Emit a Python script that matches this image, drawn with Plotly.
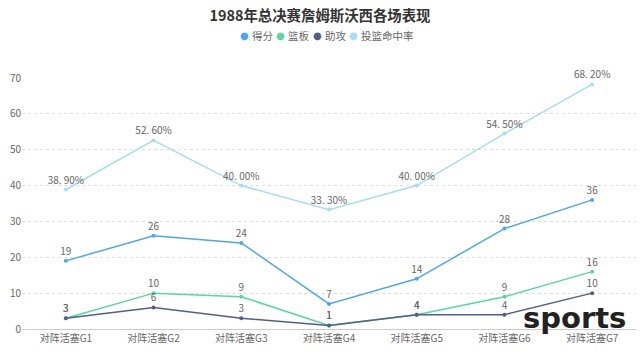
import plotly.graph_objects as go

categories = ["对阵活塞G1", "对阵活塞G2", "对阵活塞G3", "对阵活塞G4", "对阵活塞G5", "对阵活塞G6", "对阵活塞G7"]
points = [19, 26, 24, 7, 14, 28, 36]
rebounds = [3, 10, 9, 1, 4, 9, 16]
assists = [3, 6, 3, 1, 4, 4, 10]
fg_pct = [38.9, 52.6, 40.0, 33.3, 40.0, 54.5, 68.2]
y_ticks = [0, 10, 20, 30, 40, 50, 60, 70]

FONT = "Noto Sans CJK SC"

series = [
    ("得分", points, "#4ea6ec", [str(v) for v in points]),
    ("篮板", rebounds, "#56d8a3", [str(v) for v in rebounds]),
    ("助攻", assists, "#4e5f8c", [str(v) for v in assists]),
    ("投篮命中率", fg_pct, "#a6dcf5", [f"{v:.2f}%".replace(".", ". ") for v in fg_pct]),
]

# plot area in pixels (for placing the legend annotations)
L, R, T, B = 22, 636, 78, 329


def px_to_paper(px, py):
    return (px - L) / (R - L), (B - py) / (B - T)


fig = go.Figure()
for name, vals, color, labels in series:
    fig.add_trace(go.Scatter(
        x=categories, y=vals, name=name, mode="lines+markers+text",
        line=dict(color=color, width=1.5),
        marker=dict(color=color, size=4),
        text=labels, textposition="top center",
        textfont=dict(family=FONT, size=10, color="#666"),
        cliponaxis=False, showlegend=False,
    ))

# legend drawn as text: dot + name
legend_dot_x = [244, 280, 317, 353]
for (name, vals, color, labels), dx in zip(series, legend_dot_x):
    x0, y0 = px_to_paper(dx, 36)
    fig.add_annotation(text="●", x=x0, y=y0, xref="paper", yref="paper",
                       xanchor="center", yanchor="middle", showarrow=False,
                       font=dict(family="DejaVu Sans", size=10, color=color))
    x1, _ = px_to_paper(dx + 6, 36)
    fig.add_annotation(text=name, x=x1, y=y0, xref="paper", yref="paper",
                       xanchor="left", yanchor="middle", showarrow=False,
                       font=dict(family=FONT, size=10.5, color="#666"))

fig.update_layout(
    width=640, height=352,
    margin=dict(l=L, r=640 - R, t=T, b=352 - B, autoexpand=False),
    paper_bgcolor="white", plot_bgcolor="white",
    font=dict(family=FONT, color="#666", size=10),
    title=dict(text="<b>1988年总决赛詹姆斯沃西各场表现</b>", x=0.5, xanchor="center",
               yref="container", y=1 - 16 / 352, yanchor="middle",
               font=dict(family=FONT, size=14.4, color="#333")),
    showlegend=False,
)
fig.update_xaxes(
    type="category", range=[-0.5, 6.5], showgrid=False,
    showline=True, linecolor="#ccc", linewidth=1, ticks="",
    tickfont=dict(family=FONT, size=10, color="#666"),
)
fig.update_yaxes(
    range=[0, 70], tickvals=y_ticks, showgrid=True, gridcolor="#ddd",
    griddash="dot", zeroline=False, showline=False, ticks="",
    tickfont=dict(family=FONT, size=10, color="#666"),
)
sx, sy = px_to_paper(574, 318)
fig.add_annotation(text="<b>sports</b>", xref="paper", yref="paper",
                   x=sx, y=sy, xanchor="center", yanchor="middle", showarrow=False,
                   font=dict(family="DejaVu Sans", size=29, color="#222"))

fig.write_html("out.html")
